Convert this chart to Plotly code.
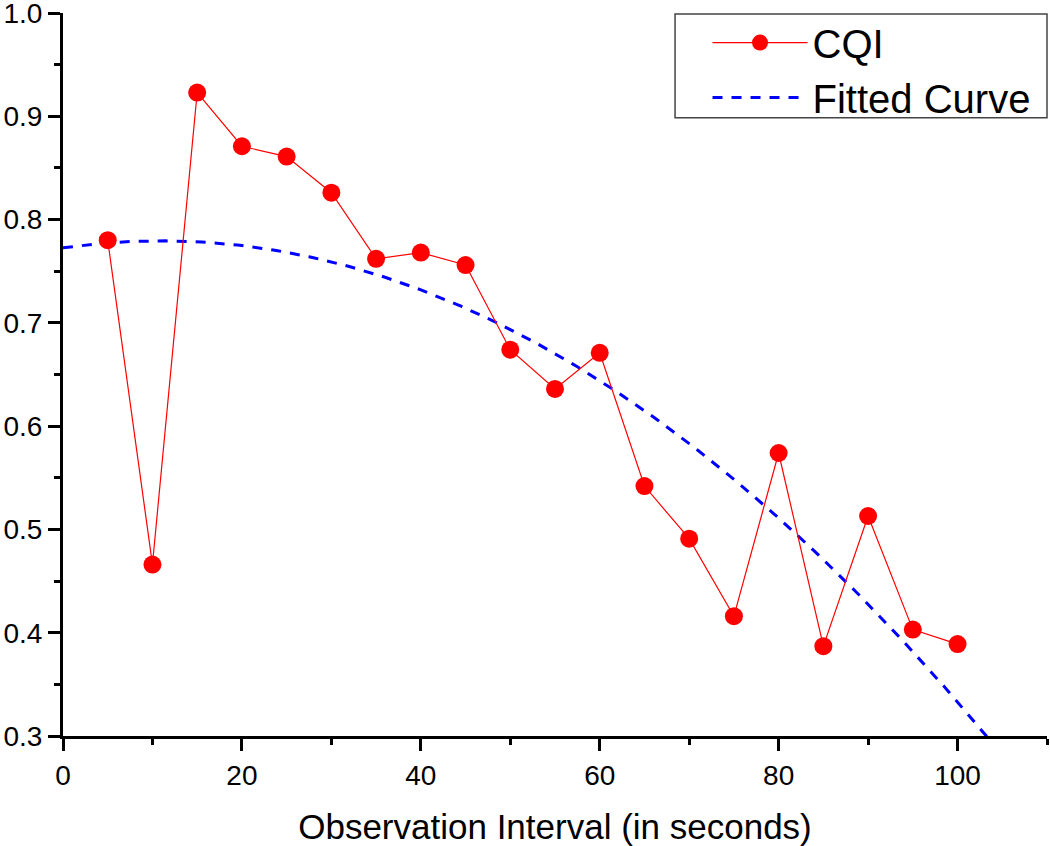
import numpy as np
import plotly.graph_objects as go

# Data
interval_s = [5, 10, 15, 20, 25, 30, 35, 40, 45, 50, 55, 60, 65, 70, 75, 80, 85, 90, 95, 100]
cqi = [0.780, 0.466, 0.923, 0.871, 0.861, 0.826, 0.762, 0.768, 0.756, 0.674,
       0.636, 0.671, 0.542, 0.491, 0.416, 0.574, 0.387, 0.513, 0.403, 0.389]

x_ticks = [0, 20, 40, 60, 80, 100]
y_ticks = [0.3, 0.4, 0.5, 0.6, 0.7, 0.8, 0.9, 1.0]

# Quadratic fit to the CQI data
coef = np.polyfit(interval_s, cqi, 2)
fit_x = np.linspace(0, 110, 221)
fit_y = np.polyval(coef, fit_x)

FONT = "Liberation Sans, Arial, sans-serif"

fig = go.Figure()
fig.add_trace(go.Scatter(
    x=fit_x, y=fit_y, mode="lines", name="Fitted Curve",
    line=dict(color="#0000ff", width=3, dash="10px,9px"),
))
fig.add_trace(go.Scatter(
    x=interval_s, y=cqi, mode="lines+markers", name="CQI",
    line=dict(color="#ff0000", width=1.2),
    marker=dict(color="#ff0000", size=18),
))

# legend frame
fig.add_shape(type="rect", xref="paper", yref="paper",
              x0=0.622, x1=1.0, y0=0.855, y1=0.9986,
              line=dict(color="#444", width=1.5), fillcolor="rgba(0,0,0,0)")

axis_font = dict(family=FONT, size=28, color="black")
fig.update_layout(
    width=1050, height=846,
    margin=dict(l=63, r=3, t=13, b=110),
    paper_bgcolor="white", plot_bgcolor="white",
    showlegend=True,
    legend=dict(
        x=0.655, y=1.004, xanchor="left", yanchor="top",
        bgcolor="rgba(0,0,0,0)", borderwidth=0,
        font=dict(family=FONT, size=40, color="black"),
        traceorder="reversed", itemwidth=95, tracegroupgap=0,
    ),
    xaxis=dict(
        range=[0, 110], tickvals=x_ticks, ticks="outside", ticklen=12, tickwidth=3,
        tickcolor="black", showline=True, linecolor="black", linewidth=3,
        showgrid=False, zeroline=False, tickfont=axis_font, automargin=False,
        ticklabeloverflow="allow",
        minor=dict(ticks="outside", ticklen=6, tickwidth=3, tickcolor="black", dtick=10, showgrid=False),
        title=dict(text="Observation Interval (in seconds)",
                   font=dict(family=FONT, size=35, color="black"),
                   standoff=26),
    ),
    yaxis=dict(
        range=[0.3, 1.0], tickvals=y_ticks, tickformat=".1f", ticks="outside", ticklen=12, tickwidth=3,
        tickcolor="black", showline=True, linecolor="black", linewidth=3,
        showgrid=False, zeroline=False, tickfont=axis_font, automargin=False,
        ticklabeloverflow="allow",
        minor=dict(ticks="outside", ticklen=6, tickwidth=3, tickcolor="black", dtick=0.05, showgrid=False),
    ),
)

fig.write_html("out.html", config={"displayModeBar": False},
               post_script="document.body.style.margin='0';document.body.style.overflow='hidden';")
